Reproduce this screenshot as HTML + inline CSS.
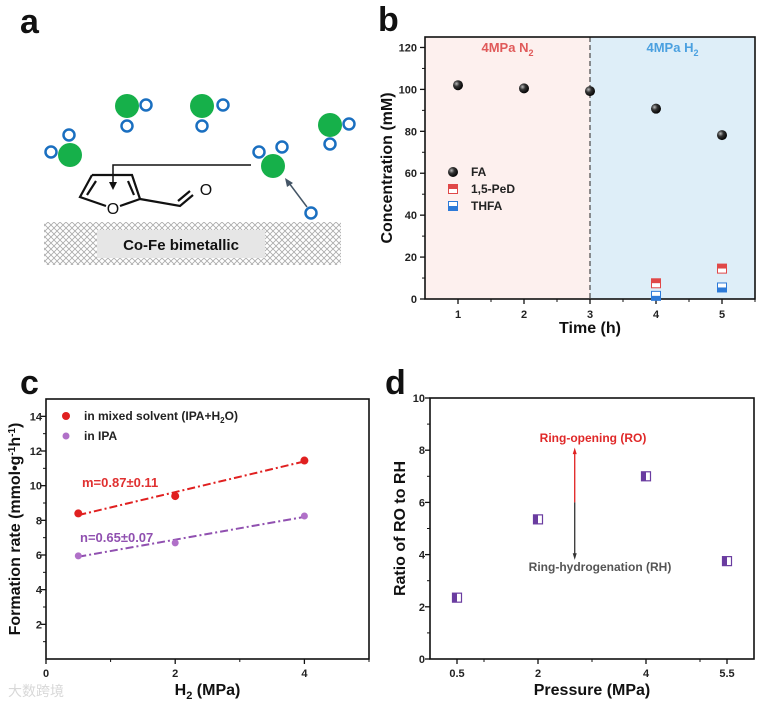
<!DOCTYPE html>
<html><head><meta charset="utf-8"><style>
html,body{margin:0;padding:0;background:#fff;}
svg{display:block;font-family:"Liberation Sans","Noto Sans CJK SC",sans-serif;}
.t{font-size:11px;font-weight:bold;fill:#222;}
.ti{font-size:16px;font-weight:bold;fill:#111;}
.pl{font-size:34px;font-weight:bold;fill:#111;}
</style></head><body>
<svg id="fig" width="766" height="708" viewBox="0 0 766 708">
<defs>
<pattern id="hatch" width="6" height="6" patternUnits="userSpaceOnUse">
<rect width="6" height="6" fill="#fff"/>
<path d="M0,0 L6,6 M6,0 L0,6" stroke="#aaa" stroke-width="0.8"/>
</pattern>
<radialGradient id="ball" cx="0.35" cy="0.35" r="0.7"><stop offset="0" stop-color="#bbb"/><stop offset="0.4" stop-color="#333"/><stop offset="1" stop-color="#000"/></radialGradient>
</defs>

<!-- Panel a -->
<g>
<text class="pl" x="20" y="33">a</text>
<rect x="44" y="222" width="297" height="43" fill="url(#hatch)"/>
<rect x="97" y="230" width="168" height="28" fill="#e6e6e6"/>
<text x="181" y="250" text-anchor="middle" style="font-size:15px;font-weight:bold;fill:#111">Co-Fe bimetallic</text>
<g fill="#16b04a">
<circle cx="70" cy="155" r="12"/><circle cx="127" cy="106" r="12"/><circle cx="202" cy="106" r="12"/><circle cx="330" cy="125" r="12"/><circle cx="273" cy="166" r="12"/>
</g>
<g fill="none" stroke="#1a6fc0" stroke-width="2.5">
<circle cx="51" cy="152" r="5.5"/><circle cx="69" cy="135" r="5.5"/>
<circle cx="146" cy="105" r="5.5"/><circle cx="127" cy="126" r="5.5"/>
<circle cx="223" cy="105" r="5.5"/><circle cx="202" cy="126" r="5.5"/>
<circle cx="349" cy="124" r="5.5"/><circle cx="330" cy="144" r="5.5"/>
<circle cx="259" cy="152" r="5.5"/><circle cx="282" cy="147" r="5.5"/>
<circle cx="311" cy="213" r="5.5"/>
</g>
<path d="M307,207 L289,183" stroke="#445566" stroke-width="1.5"/>
<path d="M285,178 L293,183 L287,187 Z" fill="#445566"/>
<path d="M251,165 L113,165 L113,184" fill="none" stroke="#111" stroke-width="1.5"/>
<path d="M109,182 L117,182 L113,190 Z" fill="#111"/>
<g fill="none" stroke="#111" stroke-width="2.2">
<path d="M92,175 L132,175 L140,199 L120,206 M106,206 L80,197 L92,175"/>
<path d="M96,181 L87,195 M128,181 L134,195"/>
<path d="M140,199 L180,206 L193,195 M178,201 L190,191"/>
</g>
<text x="113" y="214" text-anchor="middle" style="font-size:16px;fill:#111">O</text>
<text x="206" y="195" text-anchor="middle" style="font-size:16px;fill:#111">O</text>
</g>

<g id="pb">
<text class="pl" x="378" y="31">b</text>
</g>
<g id="pc">
<text class="pl" x="20" y="394">c</text>
</g>
<g id="pd">
<text class="pl" x="385" y="394">d</text>
</g>
<text x="8" y="696" style="font-size:14px;fill:#d8d8d8">大数跨境</text>
</svg>
<script>
const NS='http://www.w3.org/2000/svg';
function mk(p,tag,a){const e=document.createElementNS(NS,tag);for(const k in a)e.setAttribute(k,a[k]);p.appendChild(e);return e;}
function txt(p,s,a){const e=mk(p,'text',a);e.textContent=s;return e;}

// ---- Panel b data
const bTimes=[1,2,3,4,5];
const bFA=[102,100.5,99.2,90.8,78.2];
const bPeDTimes=[4,5];
const bPeD=[7.5,14.5];
const bTHFA=[1.5,5.5];
const bYTicks=[0,20,40,60,80,100,120];
const bXTicks=[1,2,3,4,5];

// ---- Panel c data
const cX=[0.5,2,4];
const cMixed=[8.4,9.4,11.45];
const cIPA=[5.95,6.7,8.25];
const cMixedFit=[8.3,11.4];
const cIPAFit=[5.9,8.2];
const cYTicks=[2,4,6,8,10,12,14];
const cXTicks=[0,2,4];

// ---- Panel d data
const dX=[0.5,2,4,5.5];
const dRatio=[2.35,5.35,7.0,3.75];
const dYTicks=[0,2,4,6,8,10];
const dXTicks=[0.5,2,4,5.5];

// Panel b
(function(){
 const g=document.getElementById('pb');
 const L=425,R=755,T=37,B=299;
 const sx=v=>L+(v-0.5)/5*(R-L), sy=v=>B-v/125*(B-T);
 let r=mk(g,'rect',{x:L,y:T,width:sx(3)-L,height:B-T,fill:'#fdf0ee'});
 
 r=mk(g,'rect',{x:sx(3),y:T,width:R-sx(3),height:B-T,fill:'#deeef8'});
 
 let l=mk(g,'line',{x1:sx(3),x2:sx(3),y1:T,y2:B,stroke:'#555','stroke-width':1.3,'stroke-dasharray':'5,3'});
 
 let t=txt(g,'',{x:(L+sx(3))/2,y:52,'text-anchor':'middle',style:'font-size:13px;font-weight:bold;fill:#e05a5a'});
 t.innerHTML='4MPa N<tspan dy="4" font-size="9">2</tspan>';
 
 t=txt(g,'',{x:(sx(3)+R)/2,y:52,'text-anchor':'middle',style:'font-size:13px;font-weight:bold;fill:#4aa0e0'});
 t.innerHTML='4MPa H<tspan dy="4" font-size="9">2</tspan>';
 
 let f=mk(g,'rect',{x:L,y:T,width:R-L,height:B-T,fill:'none',stroke:'#111','stroke-width':1.6});
 
 bYTicks.forEach((v,i)=>{mk(g,'line',{x1:L-5,x2:L,y1:sy(v),y2:sy(v),stroke:'#111','stroke-width':1.3});
  if(i<bYTicks.length-1)mk(g,'line',{x1:L-3,x2:L,y1:sy(v+10),y2:sy(v+10),stroke:'#111'});
  const e=txt(g,String(v),{x:L-8,y:sy(v)+4,'text-anchor':'end',class:'t'});
  });
 bXTicks.forEach(v=>{mk(g,'line',{x1:sx(v),x2:sx(v),y1:B,y2:B+5,stroke:'#111','stroke-width':1.3});
  mk(g,'line',{x1:sx(v+0.5),x2:sx(v+0.5),y1:B,y2:B+3,stroke:'#111'});
  const e=txt(g,String(v),{x:sx(v),y:B+19,'text-anchor':'middle',class:'t'});
  });
 t=txt(g,'Time (h)',{x:(L+R)/2,y:333,'text-anchor':'middle',class:'ti'});
 
 t=txt(g,'Concentration (mM)',{x:0,y:0,'text-anchor':'middle',class:'ti',transform:`translate(392,${(T+B)/2}) rotate(-90)`});
 
 bTimes.forEach((x,i)=>{const c=mk(g,'circle',{cx:sx(x),cy:sy(bFA[i]),r:5,fill:'url(#ball)'});
  });
 function sq(x,y,top,bot,nm){const s=mk(g,'g',{});
  
  mk(s,'rect',{x:x-4.5,y:y-4.5,width:9,height:4.5,fill:top});mk(s,'rect',{x:x-4.5,y:y,width:9,height:4.5,fill:bot});
  mk(s,'rect',{x:x-4.5,y:y-4.5,width:9,height:9,fill:'none',stroke:top==='#fff'?bot:top,'stroke-width':1});}
 bPeDTimes.forEach((x,i)=>sq(sx(x),sy(bPeD[i]),'#e04848','#fff','ped-point'));
 bPeDTimes.forEach((x,i)=>sq(sx(x),sy(bTHFA[i]),'#fff','#2d7ad8','thfa-point'));
 let lg=mk(g,'g',{});
 mk(lg,'circle',{cx:453,cy:172,r:5,fill:'url(#ball)'});
 txt(lg,'FA',{x:471,y:176,class:'t',style:'font-size:12px'});
 sq(453,189,'#e04848','#fff','legend-ped');
 txt(lg,'1,5-PeD',{x:471,y:193,class:'t',style:'font-size:12px'});
 sq(453,206,'#fff','#2d7ad8','legend-thfa');
 txt(lg,'THFA',{x:471,y:210,class:'t',style:'font-size:12px'});
})();

// Panel c
(function(){
 const g=document.getElementById('pc');
 const L=46,R=369,T=399,B=659;
 const sx=v=>L+v/5*(R-L), sy=v=>B-v/15*(B-T);
 let f=mk(g,'rect',{x:L,y:T,width:R-L,height:B-T,fill:'none',stroke:'#111','stroke-width':1.6});
 
 cYTicks.forEach(v=>{mk(g,'line',{x1:L-5,x2:L,y1:sy(v),y2:sy(v),stroke:'#111','stroke-width':1.3});
  mk(g,'line',{x1:L-3,x2:L,y1:sy(v-1),y2:sy(v-1),stroke:'#111'});
  const e=txt(g,String(v),{x:L-4,y:sy(v)+4,'text-anchor':'end',class:'t'});
  });
 cXTicks.forEach(v=>{mk(g,'line',{x1:sx(v),x2:sx(v),y1:B,y2:B+5,stroke:'#111','stroke-width':1.3});
  mk(g,'line',{x1:sx(v+1),x2:sx(v+1),y1:B,y2:B+3,stroke:'#111'});
  const e=txt(g,String(v),{x:sx(v),y:B+18,'text-anchor':'middle',class:'t'});
  });
 let t=txt(g,'',{x:(L+R)/2,y:695,'text-anchor':'middle',class:'ti'});
 t.innerHTML='H<tspan dy="4" font-size="11">2</tspan><tspan dy="-4"> (MPa)</tspan>';
 
 t=txt(g,'',{x:0,y:0,'text-anchor':'middle',class:'ti',transform:`translate(20,${(T+B)/2}) rotate(-90)`});
 t.innerHTML='Formation rate (mmol•g<tspan dy="-5" font-size="10">-1</tspan><tspan dy="5">h</tspan><tspan dy="-5" font-size="10">-1</tspan><tspan dy="5">)</tspan>';
 
 let l=mk(g,'line',{x1:sx(cX[0]),y1:sy(cMixedFit[0]),x2:sx(cX[2]),y2:sy(cMixedFit[1]),stroke:'#e02020','stroke-width':2,'stroke-dasharray':'8,3,2,3'});
 
 l=mk(g,'line',{x1:sx(cX[0]),y1:sy(cIPAFit[0]),x2:sx(cX[2]),y2:sy(cIPAFit[1]),stroke:'#9050b0','stroke-width':2,'stroke-dasharray':'8,3,2,3'});
 
 cX.forEach((x,i)=>{let c=mk(g,'circle',{cx:sx(x),cy:sy(cMixed[i]),r:4,fill:'#e02020'});
  
  c=mk(g,'circle',{cx:sx(x),cy:sy(cIPA[i]),r:3.5,fill:'#b070c8'});
  });
 t=txt(g,'m=0.87±0.11',{x:82,y:487,class:'t',style:'font-size:13px;fill:#e03030'});
 
 t=txt(g,'n=0.65±0.07',{x:80,y:542,class:'t',style:'font-size:13px;fill:#9050b0'});
 
 let lg=mk(g,'g',{});
 mk(lg,'circle',{cx:66,cy:416,r:4,fill:'#e02020'});
 const a=txt(lg,'',{x:84,y:420,class:'t',style:'font-size:12px'});
 a.innerHTML='in mixed solvent (IPA+H<tspan dy="3" font-size="8">2</tspan><tspan dy="-3">O)</tspan>';
 mk(lg,'circle',{cx:66,cy:436,r:3.5,fill:'#b070c8'});
 txt(lg,'in IPA',{x:84,y:440,class:'t',style:'font-size:12px'});
})();

// Panel d
(function(){
 const g=document.getElementById('pd');
 const L=430,R=754,T=398,B=659;
 const sx=v=>L+v/6*(R-L), sy=v=>B-v/10*(B-T);
 let f=mk(g,'rect',{x:L,y:T,width:R-L,height:B-T,fill:'none',stroke:'#111','stroke-width':1.6});
 
 dYTicks.forEach(v=>{mk(g,'line',{x1:L-5,x2:L,y1:sy(v),y2:sy(v),stroke:'#111','stroke-width':1.3});
  if(v<10)mk(g,'line',{x1:L-3,x2:L,y1:sy(v+1),y2:sy(v+1),stroke:'#111'});
  const e=txt(g,String(v),{x:L-5,y:sy(v)+4,'text-anchor':'end',class:'t'});
  });
 dXTicks.forEach(v=>{mk(g,'line',{x1:sx(v),x2:sx(v),y1:B,y2:B+5,stroke:'#111','stroke-width':1.3});
  const e=txt(g,String(v),{x:sx(v),y:B+18,'text-anchor':'middle',class:'t'});
  });
 [1,3,5].forEach(v=>mk(g,'line',{x1:sx(v),x2:sx(v),y1:B,y2:B+3,stroke:'#111'}));
 let t=txt(g,'Pressure (MPa)',{x:(L+R)/2,y:695,'text-anchor':'middle',class:'ti'});
 
 t=txt(g,'Ratio of RO to RH',{x:0,y:0,'text-anchor':'middle',class:'ti',transform:`translate(405,${(T+B)/2}) rotate(-90)`});
 
 const ax=L+2.68/6*(R-L);
 let l=mk(g,'line',{x1:ax,x2:ax,y1:sy(6),y2:sy(7.9),stroke:'#e02020','stroke-width':1.3});
 
 mk(g,'path',{d:`M${ax-2},${sy(7.85)} L${ax+2},${sy(7.85)} L${ax},${sy(8.1)} Z`,fill:'#e02020'});
 l=mk(g,'line',{x1:ax,x2:ax,y1:sy(6),y2:sy(4.0),stroke:'#333','stroke-width':1.3});
 
 mk(g,'path',{d:`M${ax-2},${sy(4.05)} L${ax+2},${sy(4.05)} L${ax},${sy(3.8)} Z`,fill:'#333'});
 t=txt(g,'Ring-opening (RO)',{x:593,y:442,'text-anchor':'middle',class:'t',style:'font-size:12px;fill:#e02828'});
 
 t=txt(g,'Ring-hydrogenation (RH)',{x:600,y:571,'text-anchor':'middle',class:'t',style:'font-size:12px;fill:#555'});
 
 dX.forEach((x,i)=>{const s=mk(g,'g',{});
  
  const cx=sx(x),cy=sy(dRatio[i]);
  mk(s,'rect',{x:cx-4.5,y:cy-4.5,width:4.5,height:9,fill:'#6a3ca0'});
  mk(s,'rect',{x:cx-4.5,y:cy-4.5,width:9,height:9,fill:'none',stroke:'#6a3ca0','stroke-width':1.2});});
})();
</script>
</body></html>
